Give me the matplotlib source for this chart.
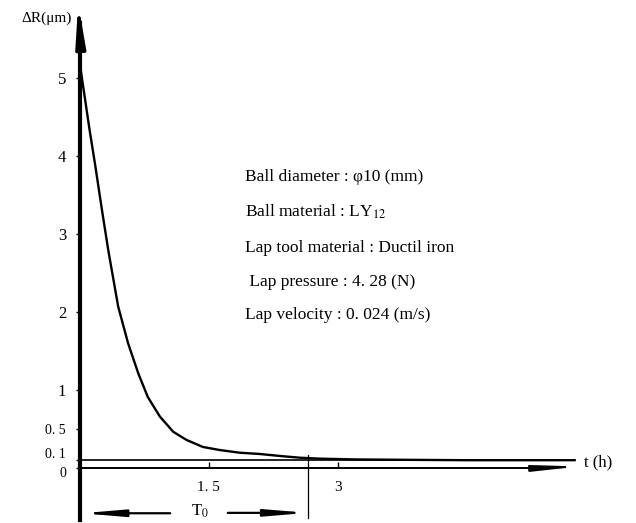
import matplotlib
matplotlib.use("Agg")
import matplotlib.pyplot as plt
import matplotlib.transforms as mtransforms

# ---- data ----
t_hours = [0, 0.015, 0.113, 0.178, 0.256, 0.33, 0.445, 0.56, 0.68, 0.79, 0.93, 1.085,
           1.24, 1.43, 1.63, 1.86, 2.09, 2.33, 2.56, 2.79, 3.2, 3.8, 4.5, 5.2, 5.76]
delta_r = [5.2, 5.06, 4.33, 3.88, 3.31, 2.79, 2.07, 1.60, 1.21, 0.91, 0.66, 0.465,
           0.36, 0.27, 0.23, 0.196, 0.18, 0.154, 0.132, 0.12, 0.11, 0.105, 0.10, 0.10, 0.10]

y_ticks = [0, 0.1, 0.5, 1, 2, 3, 4, 5]
y_tick_labels = ["0", "0. 1", "0. 5", "1", "2", "3", "4", "5"]
x_ticks = [1.5, 3]
x_tick_labels = ["1. 5", "3"]

threshold = 0.1      # asymptote level (um)
t0 = 2.65            # T0 (h)
t_axis_end = 5.76

info_lines = [
    "Ball diameter : φ10 (mm)",
    "Ball material : LY$_{12}$",
    "Lap tool material : Ductil iron",
    " Lap pressure : 4. 28 (N)",
    "Lap velocity : 0. 024 (m/s)",
]

plt.rcParams["font.family"] = ["Liberation Serif", "DejaVu Serif"]
plt.rcParams["mathtext.fontset"] = "stix"

fig = plt.figure(figsize=(6.36, 5.23), dpi=100)
ax = fig.add_axes([0, 0, 1, 1])
ax.set_xlim(-0.93, 6.47)
ax.set_ylim(-0.705, 6.0)

for s in ["top", "right"]:
    ax.spines[s].set_visible(False)
ax.spines["left"].set_position(("data", 0))
ax.spines["left"].set_bounds(-0.67, 5.7)
ax.spines["left"].set_linewidth(3)
ax.spines["bottom"].set_position(("data", 0))
ax.spines["bottom"].set_bounds(0, t_axis_end - 0.3)
ax.spines["bottom"].set_linewidth(1.4)

arrow_kw = dict(color="black", shrinkA=0, shrinkB=0, mutation_scale=10)

# axis arrows
ax.annotate("", xy=(-0.02, 5.96), xytext=(0, 5.55),
            arrowprops=dict(arrowstyle="-|>,head_length=2.4,head_width=0.28", lw=2.5, **arrow_kw))
ax.annotate("", xy=(t_axis_end + 0.05, 0.02), xytext=(t_axis_end - 0.4, 0.0),
            arrowprops=dict(arrowstyle="-|>,head_length=2.6,head_width=0.18", lw=1.4, **arrow_kw))

ax.set_yticks(y_ticks)
ax.set_yticklabels(y_tick_labels)
ax.tick_params(axis="y", direction="out", length=3, width=1, pad=7, labelsize=12)
for lab in ax.get_yticklabels():
    txt = lab.get_text()
    if "." in txt:
        lab.set_fontsize(10)
    if txt == "0. 1":
        lab.set_transform(lab.get_transform() + mtransforms.ScaledTranslation(0, 5 / 72, fig.dpi_scale_trans))
    if txt == "0":
        lab.set_fontsize(10)
        lab.set_transform(lab.get_transform() + mtransforms.ScaledTranslation(0, -3 / 72, fig.dpi_scale_trans))
ax.set_xticks(x_ticks)
ax.set_xticklabels(x_tick_labels)
ax.tick_params(axis="x", direction="in", length=4, width=1, pad=9, labelsize=11)

# curve
ax.plot(t_hours, delta_r, color="black", lw=1.7, solid_capstyle="round", solid_joinstyle="round")
# asymptote line
ax.plot([0, t_axis_end - 0.2], [threshold, threshold], color="black", lw=1.2)

# T0 marker
ax.plot([t0, t0], [0.17, -0.64], color="black", lw=0.9)
ax.annotate("", xy=(0.02, -0.58), xytext=(1.05, -0.58),
            arrowprops=dict(arrowstyle="-|>,head_length=2.4,head_width=0.2", lw=1.6, **arrow_kw))
ax.annotate("", xy=(t0, -0.575), xytext=(1.72, -0.575),
            arrowprops=dict(arrowstyle="-|>,head_length=2.4,head_width=0.2", lw=1.6, **arrow_kw))
ax.text(1.40, -0.55, "T$_0$", ha="center", va="center", fontsize=12)

# axis labels
ax.text(-0.09, 5.77, "ΔR(μm)", ha="right", va="center", fontsize=11)
ax.text(5.87, 0.07, "t (h)", ha="left", va="center", fontsize=12)

# info text
info_y = [3.73, 3.28, 2.82, 2.38, 1.96]
for line, yv in zip(info_lines, info_y):
    ax.text(1.92, yv, line, ha="left", va="center", fontsize=12.5)

fig.savefig("out.png", dpi=100)
